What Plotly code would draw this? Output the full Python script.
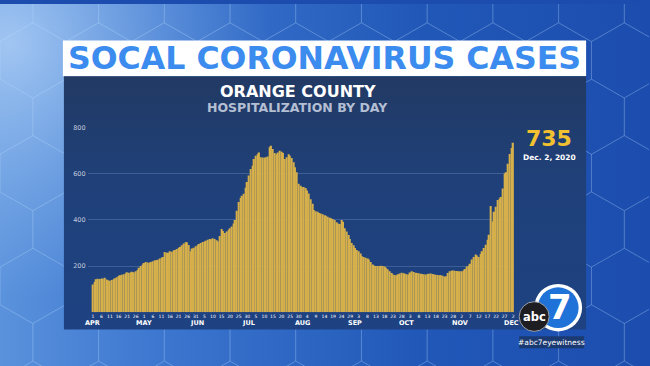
import numpy as np
import pandas as pd
import plotly.graph_objects as go

# ---------------- data ----------------
dates = pd.date_range("2020-04-01", "2020-12-02", freq="D")
apr = [120, 131, 143, 145, 144, 146, 145, 150, 142, 139,
       137, 140, 143, 148, 152, 157, 160, 163, 165, 168,
       174, 171, 172, 176, 173, 178, 183, 193, 201, 207]
may = [214, 218, 216, 215, 218, 221, 224, 225, 228, 233,
       236, 240, 261, 258, 258, 264, 262, 268, 270, 274,
       278, 283, 290, 298, 303, 303, 292, 264, 276, 280, 286]
jun = [290, 296, 300, 304, 307, 310, 314, 318, 316, 321,
       318, 312, 307, 330, 361, 352, 343, 350, 356, 364,
       372, 385, 400, 440, 478, 495, 505, 514, 540, 564]
jul = [593, 621, 635, 664, 678, 685, 692, 672, 671, 670,
       672, 675, 715, 722, 707, 690, 685, 692, 700, 696,
       690, 664, 672, 685, 678, 668, 650, 628, 607, 557, 548]
aug = [543, 543, 538, 528, 515, 490, 470, 443, 438, 436,
       430, 428, 425, 420, 418, 414, 410, 407, 404, 400,
       390, 385, 383, 400, 392, 364, 350, 335, 318, 300, 290]
sep = [278, 270, 264, 255, 243, 240, 236, 233, 229, 218,
       207, 203, 200, 201, 199, 202, 200, 198, 193, 186,
       178, 170, 164, 162, 161, 165, 168, 171, 169, 167]
oct_ = [165, 164, 172, 178, 175, 171, 170, 169, 167, 166,
        165, 164, 166, 167, 168, 166, 164, 163, 162, 161,
        160, 158, 154, 156, 170, 178, 180, 181, 180, 179, 178]
nov = [178, 178, 181, 188, 198, 202, 210, 229, 240, 250,
       246, 240, 252, 264, 278, 293, 314, 336, 460, 393,
       436, 457, 486, 493, 500, 536, 600, 607, 643, 686]
dec = [712, 735]
hospitalized = apr + may + jun + jul + aug + sep + oct_ + nov + dec

month_names = ["APR", "MAY", "JUN", "JUL", "AUG", "SEP", "OCT", "NOV", "DEC"]
y_ticks = [200, 400, 600, 800]
latest_value = "735"
latest_label = "Dec. 2, 2020"
title_text = "SOCAL CORONAVIRUS CASES"
county_text = "ORANGE COUNTY"
sub_text = "HOSPITALIZATION BY DAY"
hashtag = "#abc7eyewitness"

W, H = 650, 366
day_idx = list(range(len(dates)))
tick_vals = day_idx[::5]
tick_text = [str(dates[i].day) for i in tick_vals]
month_starts = [i for i, d in enumerate(dates) if d.day == 1]

FONT = "DejaVu Sans"

fig = go.Figure()

def rect(x0, y0, x1, y1):
    return [x0, x1, x1, x0, x0], [y0, y0, y1, y1, y0]

# background gradient (decoration, in pixel coordinates on hidden axes)
bx, by = rect(0, 0, W, H)
fig.add_trace(go.Scatter(x=bx, y=by, mode="lines", line=dict(width=0), fill="toself",
                         fillgradient=dict(type="horizontal",
                                           colorscale=[[0, "#5a92dc"], [0.25, "#3c76cf"],
                                                       [0.65, "#2158b8"], [1, "#1c4dae"]]),
                         hoverinfo="skip", showlegend=False, xaxis="x", yaxis="y"))
rx, ry = rect(-250, -220, 270, 300)
fig.add_trace(go.Scatter(x=rx, y=ry, mode="lines", line=dict(width=0), fill="toself",
                         fillgradient=dict(type="radial",
                                           colorscale=[[0, "rgba(185,215,250,0.75)"],
                                                       [0.6, "rgba(160,198,242,0.3)"],
                                                       [1, "rgba(150,190,240,0)"]]),
                         hoverinfo="skip", showlegend=False, xaxis="x", yaxis="y"))
# hex pattern
r = 38
hx, hy = [], []
for row in range(-1, 9):
    for col in range(-1, 12):
        cx = col * np.sqrt(3) * r + (row % 2) * np.sqrt(3) * r / 2
        cy = row * 1.5 * r
        for k in range(7):
            a = np.pi / 6 + k * np.pi / 3
            hx.append(cx + r * np.cos(a))
            hy.append(cy + r * np.sin(a))
        hx.append(None); hy.append(None)
fig.add_trace(go.Scatter(x=hx, y=hy, mode="lines", line=dict(color="rgba(190,220,255,0.18)", width=1),
                         hoverinfo="skip", showlegend=False, xaxis="x", yaxis="y"))
# white banner
wx, wy = rect(63, 37, 587, 73)
fig.add_trace(go.Scatter(x=wx, y=wy, mode="lines", line=dict(width=0), fill="toself",
                         fillcolor="#ffffff", hoverinfo="skip", showlegend=False, xaxis="x", yaxis="y"))
# panel
px_, py_ = rect(64, 73, 587, 329)
fig.add_trace(go.Scatter(x=px_, y=py_, mode="lines", line=dict(width=0), fill="toself",
                         fillgradient=dict(type="vertical", start=73, stop=329,
                                           colorscale=[[0, "#223a64"], [0.4, "#1f4079"], [1, "#1e4282"]]),
                         hoverinfo="skip", showlegend=False, xaxis="x", yaxis="y"))

# bars
fig.add_trace(go.Bar(x=day_idx, y=hospitalized, marker=dict(color="#d6b04a", line=dict(width=0)),
                     xaxis="x2", yaxis="y2", showlegend=False, hoverinfo="skip"))

# chart geometry (pixels)
x_left, x_right = 87.8, 515.0
y_top, y_bottom = 125.0, 311.7

annotations = [
    dict(x=325, y=55, xref="x", yref="y", text=title_text, showarrow=False,
         font=dict(family=FONT, size=31.6, color="#3b8cee", weight="bold")),
    dict(x=298, y=88, xref="x", yref="y", text=county_text, showarrow=False, yanchor="middle",
         borderpad=0, font=dict(family=FONT, size=16, color="#ffffff", weight="bold")),
    dict(x=298, y=105, xref="x", yref="y", text=sub_text, showarrow=False, yanchor="middle",
         borderpad=0, font=dict(family=FONT, size=12.5, color="#b4bfd3", weight="bold")),
    dict(x=550, y=136, xref="x", yref="y", text=latest_value, showarrow=False,
         font=dict(family=FONT, size=22, color="#f3c12f", weight="bold")),
    dict(x=550, y=155, xref="x", yref="y", text=latest_label, showarrow=False,
         font=dict(family=FONT, size=7.5, color="#ffffff", weight="bold")),
    dict(x=561, y=306, xref="x", yref="y", text="7", showarrow=False,
         font=dict(family=FONT, size=34, color="#ffffff", weight="bold")),
    dict(x=535, y=316, xref="x", yref="y", text="abc", showarrow=False,
         font=dict(family=FONT, size=11.5, color="#ffffff", weight="bold")),
    dict(x=552, y=342, xref="x", yref="y", text=hashtag, showarrow=False,
         font=dict(family=FONT, size=7.5, color="#ffffff")),
]
for i, name in zip(month_starts, month_names):
    annotations.append(dict(x=i, y=323, xref="x2", yref="y", text=name, showarrow=False,
                            font=dict(family=FONT, size=6.5, color="#ffffff", weight="bold")))

shapes = [
    dict(type="circle", xref="x", yref="y", x0=535, y0=283, x1=583, y1=331,
         fillcolor="#ffffff", line=dict(width=0), layer="above"),
    dict(type="circle", xref="x", yref="y", x0=538.5, y0=286.5, x1=579.5, y1=327.5,
         fillcolor="#1f72d8", line=dict(width=0), layer="above"),
    dict(type="circle", xref="x", yref="y", x0=520, y0=301, x1=550, y1=331,
         fillcolor="#1e1e22", line=dict(color="#9aa0a8", width=1), layer="above"),
    dict(type="rect", xref="x", yref="y", x0=520, y0=336, x1=585, y1=348,
         fillcolor="#1b3a72", line=dict(width=0), layer="above"),
]

fig.update_layout(
    width=W, height=H, margin=dict(l=0, r=0, t=0, b=0),
    paper_bgcolor="#1c4dae", plot_bgcolor="rgba(0,0,0,0)",
    bargap=0.22, showlegend=False,
    xaxis=dict(domain=[0, 1], range=[0, W], visible=False, fixedrange=True),
    yaxis=dict(domain=[0, 1], range=[H, 0], visible=False, fixedrange=True),
    xaxis2=dict(domain=[x_left / W, x_right / W], range=[-3, 245.6], anchor="y2",
                tickmode="array", tickvals=tick_vals, ticktext=tick_text, tickangle=0,
                tickfont=dict(family=FONT, size=4.5, color="#ffffff"),
                showgrid=False, zeroline=False, showline=False, ticks=""),
    yaxis2=dict(domain=[1 - y_bottom / H, 1 - y_top / H], range=[0, 800], anchor="x2",
                tickmode="array", tickvals=y_ticks,
                tickfont=dict(family=FONT, size=6.5, color="#c3cbdc"),
                showgrid=True, gridcolor="#3d5e97", gridwidth=1,
                zeroline=False, showline=False, ticks="", ticklabelstandoff=1),
    annotations=annotations, shapes=shapes,
)

fig.write_html("out.html")
